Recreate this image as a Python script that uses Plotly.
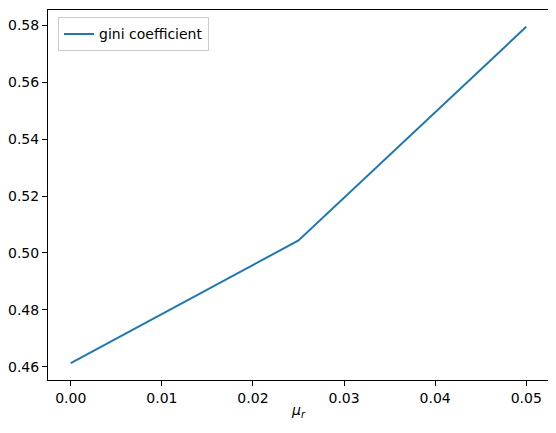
import plotly.graph_objects as go

mu_r = [0.0, 0.025, 0.05]
gini = [0.4613, 0.5044, 0.5794]
x_ticks = [0.0, 0.01, 0.02, 0.03, 0.04, 0.05]
x_labels = ["0.00", "0.01", "0.02", "0.03", "0.04", "0.05"]
y_ticks = [0.46, 0.48, 0.50, 0.52, 0.54, 0.56, 0.58]
y_labels = ["0.46", "0.48", "0.50", "0.52", "0.54", "0.56", "0.58"]

fig = go.Figure()
fig.add_trace(go.Scatter(x=mu_r, y=gini, mode="lines", name="gini coefficient",
                         line=dict(color="#1f77b4", width=2)))

axis_common = dict(showline=True, linecolor="black", linewidth=1, mirror=True,
                   ticks="outside", ticklen=5, tickwidth=1, tickcolor="black",
                   showgrid=False, zeroline=False, automargin=False,
                   tickfont=dict(family="DejaVu Sans", size=14, color="black"))

# page body has an 8px default margin; size the figure to compensate
fig.update_layout(
    width=548, height=425,
    margin=dict(l=40, r=7, t=2, b=53),
    paper_bgcolor="white", plot_bgcolor="white",
    font=dict(family="DejaVu Sans", size=14, color="black"),
    showlegend=True,
    legend=dict(x=0.02, y=0.98, xanchor="left", yanchor="top",
                bgcolor="rgba(255,255,255,0.8)", bordercolor="#cccccc", borderwidth=1,
                font=dict(family="DejaVu Sans", size=14, color="black")),
    xaxis=dict(range=[-0.0025, 0.0525], tickvals=x_ticks, ticktext=x_labels,
               title=dict(text="<i>μ</i><sub><i>r</i></sub>", standoff=0,
                          font=dict(family="DejaVu Sans", size=14)),
               **axis_common),
    yaxis=dict(range=[0.4554, 0.5853], tickvals=y_ticks, ticktext=y_labels, **axis_common),
)

fig.write_html("out.html")
